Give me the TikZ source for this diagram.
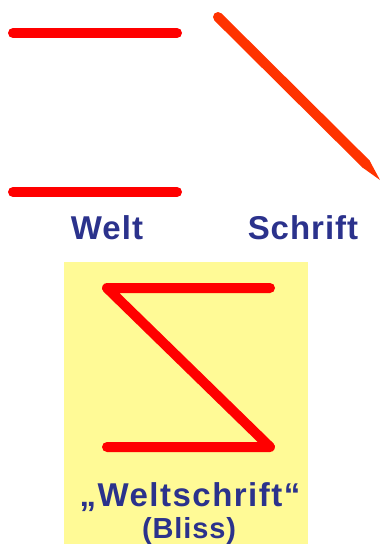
\documentclass[tikz,border=0pt]{standalone}
\usepackage{fontspec}
\setmainfont{Liberation Sans}
\definecolor{strokered}{RGB}{255,0,0}
\definecolor{penred}{RGB}{255,51,0}
\definecolor{labelblue}{RGB}{43,50,140}
\definecolor{boxyellow}{RGB}{255,250,150}

\begin{document}
\begin{tikzpicture}[x=1pt, y=-1pt,
        strich/.style={draw=strokered, line width=10pt, line cap=round, line join=round},
        beschriftung/.style={text=labelblue, font=\fontsize{33}{38}\selectfont\bfseries\addfontfeature{LetterSpace=3}, inner sep=0pt}]

    \useasboundingbox (0,0) rectangle (380,544);

    % Welt
    \draw[strich] (13,33) -- (177,33);
    \draw[strich] (13,192) -- (177,192);
    \node[beschriftung] (welt) at (107,228) {Welt};

    % Schrift
    \draw[draw=penred, line width=10pt, line cap=round] (218,17) -- (366,164);
    \fill[penred] (369.5,160.5) -- (380,180) -- (362.5,167.5) -- cycle;
    \node[beschriftung] (schrift) at (303,228) {Schrift};

    % Weltschrift
    \fill[boxyellow] (64,262) rectangle (308,544);
    \draw[strich] (270,288) -- (107,288) -- (270,447) -- (107,447);
    \node[beschriftung, font=\fontsize{33}{38}\selectfont\bfseries\addfontfeature{LetterSpace=4.5}] (weltschrift) at (190,497) {„Weltschrift“};
    \node[beschriftung, font=\fontsize{29}{32}\selectfont\bfseries\addfontfeature{LetterSpace=3}] (bliss) at (189,531) {(Bliss)};
\end{tikzpicture}
\end{document}
